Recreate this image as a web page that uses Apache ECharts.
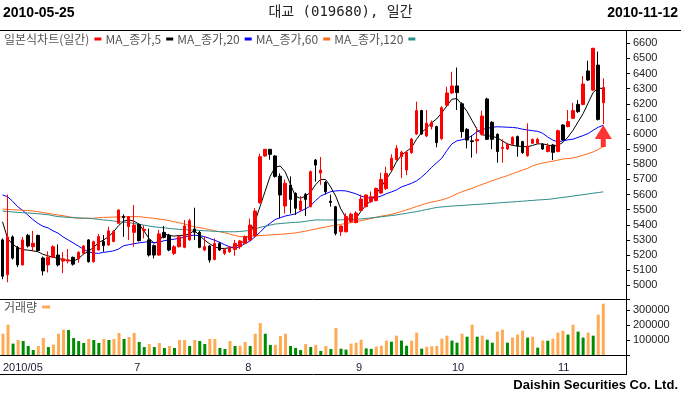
<!DOCTYPE html>
<html>
<head>
<meta charset="utf-8">
<script src="https://cdn.jsdelivr.net/npm/echarts@6/dist/echarts.min.js"></script>
<style>
  html, body { margin: 0; padding: 0; background: #fff; }
  #chart { width: 681px; height: 399px; }
</style>
</head>
<body>
<div id="chart"></div>
<script>
// trading days 2010-05-25 .. 2010-11-12
const dates = [
  '2010-05-25','2010-05-26','2010-05-27','2010-05-28','2010-05-31',
  '2010-06-01','2010-06-03','2010-06-04','2010-06-07','2010-06-08','2010-06-09','2010-06-10','2010-06-11',
  '2010-06-14','2010-06-15','2010-06-16','2010-06-17','2010-06-18','2010-06-21','2010-06-22','2010-06-23',
  '2010-06-24','2010-06-25','2010-06-28','2010-06-29','2010-06-30',
  '2010-07-01','2010-07-02','2010-07-05','2010-07-06','2010-07-07','2010-07-08','2010-07-09','2010-07-12',
  '2010-07-13','2010-07-14','2010-07-15','2010-07-16','2010-07-19','2010-07-20','2010-07-21','2010-07-22',
  '2010-07-23','2010-07-26','2010-07-27','2010-07-28','2010-07-29','2010-07-30',
  '2010-08-02','2010-08-03','2010-08-04','2010-08-05','2010-08-06','2010-08-09','2010-08-10','2010-08-11',
  '2010-08-12','2010-08-13','2010-08-16','2010-08-17','2010-08-18','2010-08-19','2010-08-20','2010-08-23',
  '2010-08-24','2010-08-25','2010-08-26','2010-08-27','2010-08-30','2010-08-31',
  '2010-09-01','2010-09-02','2010-09-03','2010-09-06','2010-09-07','2010-09-08','2010-09-09','2010-09-10',
  '2010-09-13','2010-09-14','2010-09-15','2010-09-16','2010-09-17','2010-09-20','2010-09-24','2010-09-27',
  '2010-09-28','2010-09-29','2010-09-30',
  '2010-10-01','2010-10-04','2010-10-05','2010-10-06','2010-10-07','2010-10-08','2010-10-11','2010-10-12',
  '2010-10-13','2010-10-14','2010-10-15','2010-10-18','2010-10-19','2010-10-20','2010-10-21','2010-10-22',
  '2010-10-25','2010-10-26','2010-10-27','2010-10-28','2010-10-29',
  '2010-11-01','2010-11-02','2010-11-03','2010-11-04','2010-11-05','2010-11-08','2010-11-09','2010-11-10',
  '2010-11-11','2010-11-12'
];
// empty slots on the right side of the plot
const padSlots = ['p1', 'p2', 'p3', 'p4'];

const opens = [
  5300,5070,5320,5250,5135,5330,5255,5330,5180,5135,5185,5200,5160,5160,5185,5175,5212,5300,5156,5233,
  5290,5266,5290,5410,5456,5388,5350,5403,5362,5300,5262,5200,5350,5332,5211,5255,5251,5300,5372,5350,
  5233,5260,5171,5277,5211,5222,5237,5255,5277,5299,5326,5546,5855,5899,5855,5722,5524,5663,5608,5498,
  5601,5520,5828,5742,5680,5556,5520,5354,5354,5420,5415,5495,5520,5553,5560,5610,5640,5762,5830,5850,
  5762,5877,6000,6155,5987,6049,6049,5970,6190,6272,6318,6200,6031,5955,5955,5998,6232,6078,5998,5905,
  5901,5932,5983,5950,5857,5939,5939,5932,5884,5928,5884,6060,6049,6104,6196,6196,6417,6291,6456,6207
];
const highs = [
  5310,5600,5330,5260,5320,5340,5360,5335,5190,5225,5265,5270,5220,5240,5190,5225,5265,5305,5295,5340,
  5332,5387,5365,5500,5470,5458,5531,5410,5395,5375,5270,5365,5392,5340,5265,5330,5432,5440,5513,5360,
  5321,5265,5310,5285,5245,5258,5300,5300,5330,5440,5510,5870,5900,5900,5860,5740,5700,5720,5615,5590,
  5610,5760,5835,5848,5690,5600,5525,5395,5476,5480,5490,5600,5600,5620,5645,5745,5784,5866,5927,5890,
  5890,5975,6214,6160,6159,6090,6055,6185,6313,6412,6440,6210,6040,5990,6045,6155,6240,6085,6005,5965,
  5940,5985,5990,5955,6071,5970,5975,5940,5940,5935,6030,6065,6159,6207,6225,6384,6485,6570,6545,6368
];
const lows = [
  5040,5020,5170,5120,5130,5250,5225,5225,5065,5085,5180,5125,5080,5145,5130,5150,5205,5150,5150,5230,
  5222,5260,5285,5405,5320,5300,5255,5290,5310,5190,5178,5195,5310,5225,5200,5250,5245,5295,5299,5245,
  5225,5150,5165,5228,5200,5215,5195,5240,5272,5290,5320,5540,5850,5830,5712,5443,5475,5475,5465,5487,
  5458,5515,5685,5664,5600,5520,5330,5326,5350,5415,5410,5490,5515,5545,5555,5605,5630,5755,5825,5710,
  5729,5870,5995,5995,5980,6030,5912,5960,6185,6265,6159,5976,5905,5844,5870,5990,5960,5900,5811,5811,
  5895,5928,5850,5870,5850,5935,5935,5895,5880,5828,5880,5955,6045,6100,6140,6190,6350,6285,6090,6066
];
const closes = [
  5060,5320,5180,5135,5300,5260,5278,5230,5095,5185,5255,5135,5175,5168,5140,5218,5260,5156,5288,5322,
  5262,5360,5355,5498,5448,5454,5398,5295,5370,5200,5200,5340,5317,5233,5255,5321,5392,5427,5350,5251,
  5255,5167,5277,5233,5237,5251,5277,5293,5321,5398,5491,5850,5899,5866,5720,5597,5674,5568,5509,5557,
  5568,5751,5795,5762,5619,5548,5343,5392,5454,5470,5478,5570,5597,5586,5641,5700,5740,5840,5905,5880,
  5880,5967,6155,6000,6071,6075,5943,6174,6272,6318,6274,6016,5960,5950,5965,6119,5965,5965,5884,5912,
  5932,5978,5921,5877,5921,5965,5965,5901,5921,5879,6022,5961,6082,6155,6148,6331,6357,6567,6097,6308
];
const volumes = [
  142000,202000,76000,100000,93000,60000,33000,60000,113000,53000,69000,142000,169000,167000,113000,93000,80000,107000,100000,80000,
  107000,100000,107000,147000,107000,120000,147000,87000,53000,73000,53000,80000,47000,60000,47000,100000,100000,60000,100000,93000,
  73000,107000,107000,47000,40000,93000,60000,62000,87000,60000,142000,213000,142000,67000,68000,127000,142000,60000,47000,33000,
  73000,53000,67000,27000,60000,40000,180000,42000,36000,76000,82000,102000,44000,41000,56000,62000,96000,89000,129000,96000,
  62000,96000,149000,42000,55000,58000,60000,109000,129000,96000,82000,142000,122000,202000,122000,129000,102000,82000,156000,169000,
  82000,116000,136000,162000,116000,122000,49000,97000,95000,109000,149000,162000,136000,202000,156000,116000,149000,129000,269000,342000
];
const ma5 = [
  5420,5310,5270,5250,5235,5233,5228,5222,5205,5195,5185,5178,5170,5165,5160,5175,5205,5225,5250,5280,
  5300,5320,5355,5395,5425,5432,5425,5405,5360,5310,5280,5290,5340,5330,5325,5330,5330,5340,5362,5330,
  5300,5275,5255,5244,5244,5248,5255,5270,5300,5340,5420,5520,5620,5720,5780,5789,5750,5670,5590,5575,
  5590,5615,5665,5700,5700,5650,5590,5505,5450,5428,5440,5490,5530,5560,5605,5650,5700,5750,5815,5860,
  5885,5910,5965,6010,6040,6075,6100,6140,6185,6230,6235,6195,6150,6090,6030,5995,5990,5985,5975,5955,
  5935,5925,5920,5918,5916,5925,5935,5935,5928,5920,5925,5945,5980,6025,6080,6135,6205,6275,6305,6300
];
const ma20 = [
  5597,5586,5555,5520,5495,5465,5435,5410,5390,5380,5360,5345,5320,5300,5280,5260,5240,5222,5213,5211,
  5218,5222,5228,5240,5262,5268,5275,5280,5285,5288,5280,5285,5295,5300,5305,5310,5318,5328,5332,5328,
  5322,5310,5298,5285,5268,5255,5244,5255,5275,5292,5320,5350,5385,5410,5435,5447,5458,5465,5472,5490,
  5505,5525,5560,5590,5605,5619,5624,5626,5624,5615,5605,5590,5580,5575,5580,5590,5605,5617,5630,5650,
  5662,5674,5690,5715,5745,5780,5810,5840,5890,5935,5955,5962,5970,5990,6015,6030,6038,6045,6048,6047,
  6045,6044,6040,6032,6027,6022,6018,6005,5980,5960,5948,5955,5962,5966,5978,5990,6003,6025,6045,6058
];
const ma60 = [
  5504,5502,5500,5498,5496,5494,5491,5487,5481,5476,5470,5465,5460,5454,5448,5443,5443,5443,5443,5447,
  5449,5450,5451,5452,5453,5454,5454,5454,5450,5446,5443,5438,5434,5428,5420,5414,5405,5396,5387,5381,
  5376,5368,5361,5354,5348,5338,5330,5322,5322,5325,5327,5329,5331,5333,5335,5337,5340,5343,5346,5352,
  5358,5365,5372,5379,5385,5392,5397,5403,5409,5414,5420,5427,5434,5441,5450,5457,5463,5469,5478,5488,
  5498,5509,5520,5531,5542,5550,5557,5565,5575,5588,5605,5618,5630,5641,5655,5667,5679,5692,5703,5714,
  5725,5738,5750,5762,5773,5790,5800,5808,5815,5820,5828,5835,5838,5842,5850,5860,5870,5882,5898,5916
];
const ma120 = [
  5491,5488,5485,5482,5480,5478,5476,5473,5470,5467,5460,5454,5452,5449,5447,5446,5444,5443,5440,5436,
  5432,5429,5425,5421,5418,5414,5409,5403,5398,5392,5387,5383,5380,5376,5373,5370,5368,5366,5365,5363,
  5361,5359,5357,5355,5354,5354,5354,5356,5359,5363,5372,5383,5390,5398,5405,5408,5411,5414,5416,5418,
  5423,5428,5432,5432,5432,5432,5432,5433,5434,5435,5436,5439,5442,5446,5449,5453,5457,5461,5465,5471,
  5476,5482,5487,5494,5501,5508,5515,5518,5521,5524,5526,5528,5530,5533,5535,5537,5539,5542,5544,5547,
  5549,5551,5554,5556,5559,5561,5564,5566,5568,5572,5577,5581,5585,5590,5595,5599,5604,5609,5613,5618
];
// buy signal arrow under the last candle: [candle index, price]
const signalPoints = [[119, 5987]];

// month ticks / labels on the volume axis
const tickIdx = [5, 26, 48, 70, 89, 110];
const labelIdx = [0, 26, 48, 70, 89, 110];
const labelText = ['2010/05', '7', '8', '9', '10', '11'];

const UP = '#ff0000';
const DOWN = '#000000';
const VOL_UP = '#ffaa55';
const VOL_DOWN = '#008c00';
const KR = "'Noto Sans CJK KR', sans-serif";
const LAT = "'Liberation Sans', Arial, sans-serif";

const cats = dates.concat(padSlots);

const chart = echarts.init(document.getElementById('chart'), null, { renderer: 'canvas' });

const candleData = opens.map((o, i) => [o, closes[i], lows[i], highs[i]]);
const volData = volumes.map((v, i) => ({
  value: v,
  itemStyle: { color: i === 0 || v >= volumes[i - 1] ? VOL_UP : VOL_DOWN },
}));

function maSeries(name, data, color) {
  return {
    name,
    type: 'line',
    xAxisIndex: 0,
    yAxisIndex: 0,
    data,
    symbol: 'none',
    z: 2,
    lineStyle: { color, width: 1 },
    itemStyle: { color },
  };
}

const option = {
  animation: false,
  backgroundColor: '#fff',
  title: [
    {
      text: '대교 (019680), 일간',
      left: 'center',
      top: 5,
      padding: 0,
      textStyle: { fontFamily: "'DejaVu Sans Mono', 'Noto Sans CJK KR', monospace", fontSize: 14, fontWeight: 'normal', color: '#222' },
    },
    {
      text: '2010-05-25',
      left: 3,
      top: 6,
      padding: 0,
      textStyle: { fontFamily: LAT, fontSize: 14, fontWeight: 'bold', color: '#000' },
    },
    {
      text: '2010-11-12',
      right: 3,
      top: 6,
      padding: 0,
      textStyle: { fontFamily: LAT, fontSize: 14, fontWeight: 'bold', color: '#000' },
    },
    {
      text: 'Daishin Securities Co. Ltd.',
      right: 3,
      top: 379,
      padding: 0,
      textStyle: { fontFamily: LAT, fontSize: 13, fontWeight: 'bold', color: '#000' },
    },
  ],
  legend: [
    {
      left: 4,
      top: 33,
      padding: 0,
      icon: 'rect',
      itemWidth: 7,
      itemHeight: 3,
      itemGap: 4,
      align: 'right',
      selectedMode: false,
      textStyle: { fontFamily: KR, fontSize: 12, color: '#555' },
      data: [
        { name: '일본식차트(일간)', itemStyle: { color: UP, borderWidth: 0 } },
        { name: 'MA_종가,5', itemStyle: { color: '#000' } },
        { name: 'MA_종가,20', itemStyle: { color: '#0000ff' } },
        { name: 'MA_종가,60', itemStyle: { color: '#ff6a1a' } },
        { name: 'MA_종가,120', itemStyle: { color: '#2e8b8b' } },
      ],
    },
    {
      left: 4,
      top: 301,
      padding: 0,
      icon: 'rect',
      itemWidth: 8,
      itemHeight: 3,
      align: 'right',
      selectedMode: false,
      textStyle: { fontFamily: KR, fontSize: 12, color: '#555' },
      data: [{ name: '거래량', itemStyle: { color: VOL_UP } }],
    },
  ],
  grid: [
    { left: 0, right: 55, top: 43.3, height: 242 },
    { left: 0, right: 55, top: 299, height: 56 },
  ],
  xAxis: [
    {
      type: 'category',
      gridIndex: 0,
      data: cats,
      boundaryGap: true,
      show: false,
    },
    {
      type: 'category',
      gridIndex: 1,
      data: cats,
      boundaryGap: true,
      axisLine: { lineStyle: { color: '#000' } },
      axisTick: {
        length: 5,
        interval: (i) => tickIdx.includes(i),
        lineStyle: { color: '#000' },
      },
      axisLabel: {
        interval: (i) => labelIdx.includes(i),
        formatter: (v, i) => labelText[labelIdx.indexOf(i)] || '',
        align: 'left',
        margin: 7,
        fontFamily: LAT,
        fontSize: 11,
        color: '#1a1a33',
      },
      splitLine: { show: false },
    },
  ],
  yAxis: [
    {
      type: 'value',
      gridIndex: 0,
      position: 'right',
      min: 5000,
      max: 6600,
      interval: 100,
      axisLine: { show: true, lineStyle: { color: '#000' } },
      axisTick: { show: true, length: 4, lineStyle: { color: '#000' } },
      axisLabel: {
        margin: 7,
        fontFamily: LAT,
        fontSize: 11,
        color: '#222',
        formatter: (v) => String(v),
      },
      splitLine: { show: false },
    },
    {
      type: 'value',
      gridIndex: 1,
      position: 'right',
      min: 0,
      max: 373333,
      interval: 100000,
      axisLine: { show: true, lineStyle: { color: '#000' } },
      axisTick: { show: true, length: 4, lineStyle: { color: '#000' } },
      axisLabel: {
        margin: 7,
        fontFamily: LAT,
        fontSize: 11,
        color: '#222',
        formatter: (v) => (v > 0 && v % 100000 === 0 ? String(v) : ''),
      },
      splitLine: { show: false },
    },
  ],
  series: [
    maSeries('MA_종가,5', ma5, '#000000'),
    maSeries('MA_종가,20', ma20, '#0000ff'),
    maSeries('MA_종가,60', ma60, '#ff6a1a'),
    maSeries('MA_종가,120', ma120, '#2e8b8b'),
    {
      name: '일본식차트(일간)',
      type: 'candlestick',
      xAxisIndex: 0,
      yAxisIndex: 0,
      data: candleData,
      barWidth: 3,
      z: 3,
      itemStyle: {
        color: UP,
        color0: DOWN,
        borderColor: UP,
        borderColor0: DOWN,
        borderWidth: 1,
      },
    },
    {
      name: 'signal',
      type: 'scatter',
      xAxisIndex: 0,
      yAxisIndex: 0,
      data: signalPoints,
      symbol: 'path://M8.5,0 L17,14 L11,14 L11,22 L6,22 L6,14 L0,14 Z',
      symbolSize: [17, 22],
      itemStyle: { color: UP },
      z: 4,
      silent: true,
    },
    {
      name: '거래량',
      type: 'bar',
      xAxisIndex: 1,
      yAxisIndex: 1,
      data: volData,
      barWidth: 3,
      itemStyle: { color: VOL_UP },
    },
  ],
  graphic: [
    { type: 'line', silent: true, shape: { x1: 0, y1: 30.5, x2: 681, y2: 30.5 }, style: { stroke: '#000', lineWidth: 1 } },
    { type: 'line', silent: true, shape: { x1: 0, y1: 299.5, x2: 627, y2: 299.5 }, style: { stroke: '#000', lineWidth: 1 } },
    { type: 'line', silent: true, shape: { x1: 0, y1: 374.5, x2: 627, y2: 374.5 }, style: { stroke: '#000', lineWidth: 1 } },
    { type: 'line', silent: true, shape: { x1: 626.5, y1: 30, x2: 626.5, y2: 375 }, style: { stroke: '#000', lineWidth: 1 } },
  ],
};

chart.setOption(option);

window.addEventListener('resize', () => chart.resize());
</script>
</body>
</html>
